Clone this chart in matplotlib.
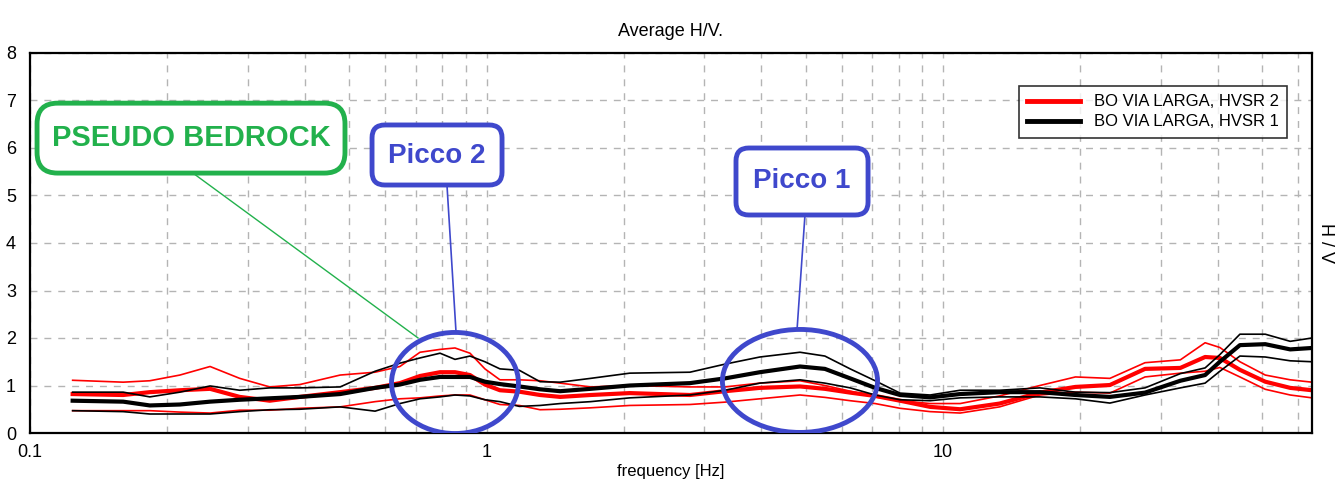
import numpy as np
import matplotlib.pyplot as plt
from matplotlib.patches import Ellipse, FancyBboxPatch

plt.rcParams['font.family'] = ['Liberation Sans', 'DejaVu Sans']

# frequency axis (Hz)
freq = [0.124, 0.160, 0.183, 0.213, 0.248, 0.288, 0.335, 0.390, 0.478, 0.570,
        0.646, 0.715, 0.791, 0.853, 0.920, 0.992, 1.07, 1.18, 1.31, 1.45,
        1.69, 2.06, 2.79, 3.33, 3.97, 4.86, 5.51, 6.26, 7.10, 8.05,
        9.37, 10.9, 13.3, 16.3, 19.5, 23.2, 27.7, 33.1, 37.5, 40.4,
        44.7, 50.8, 57.6, 64.3]

# HVSR 2 (red): mean and +/- std
hv2_up = [1.11, 1.07, 1.10, 1.22, 1.40, 1.15, 0.97, 1.02, 1.22, 1.28,
          1.40, 1.70, 1.76, 1.79, 1.68, 1.35, 1.12, 1.12, 1.10, 1.05,
          0.97, 1.00, 0.97, 0.97, 1.05, 1.10, 1.00, 0.88, 0.76, 0.68,
          0.62, 0.62, 0.78, 1.00, 1.18, 1.15, 1.48, 1.54, 1.90, 1.80,
          1.50, 1.22, 1.12, 1.07]
hv2_mean = [0.82, 0.80, 0.86, 0.90, 0.93, 0.76, 0.68, 0.76, 0.86, 0.95,
            1.05, 1.20, 1.28, 1.28, 1.22, 1.02, 0.90, 0.87, 0.80, 0.76,
            0.80, 0.84, 0.80, 0.88, 0.95, 0.98, 0.93, 0.85, 0.78, 0.68,
            0.55, 0.50, 0.62, 0.85, 0.97, 1.01, 1.35, 1.37, 1.60, 1.58,
            1.33, 1.08, 0.95, 0.90]
hv2_lo = [0.47, 0.47, 0.47, 0.44, 0.42, 0.48, 0.48, 0.52, 0.55, 0.66,
          0.72, 0.74, 0.78, 0.80, 0.80, 0.70, 0.60, 0.58, 0.49, 0.50,
          0.53, 0.58, 0.60, 0.65, 0.72, 0.80, 0.75, 0.68, 0.62, 0.52,
          0.45, 0.42, 0.55, 0.80, 0.86, 0.84, 1.18, 1.26, 1.30, 1.38,
          1.18, 0.92, 0.80, 0.74]

# HVSR 1 (black): mean and +/- std
hv1_up = [0.86, 0.86, 0.76, 0.86, 0.99, 0.90, 0.95, 0.95, 0.97, 1.30,
          1.47, 1.58, 1.68, 1.55, 1.62, 1.50, 1.35, 1.32, 1.08, 1.07,
          1.15, 1.26, 1.28, 1.45, 1.60, 1.70, 1.62, 1.35, 1.10, 0.84,
          0.80, 0.90, 0.90, 0.95, 0.86, 0.85, 0.95, 1.25, 1.37, 1.65,
          2.08, 2.08, 1.93, 2.00]
hv1_mean = [0.68, 0.66, 0.58, 0.60, 0.66, 0.70, 0.73, 0.76, 0.82, 0.95,
            1.02, 1.12, 1.18, 1.18, 1.18, 1.08, 1.03, 0.98, 0.92, 0.88,
            0.93, 1.00, 1.05, 1.15, 1.28, 1.40, 1.35, 1.15, 0.95, 0.80,
            0.75, 0.82, 0.86, 0.86, 0.80, 0.76, 0.85, 1.10, 1.22, 1.50,
            1.85, 1.87, 1.76, 1.79]
hv1_lo = [0.47, 0.45, 0.40, 0.40, 0.40, 0.45, 0.49, 0.50, 0.55, 0.46,
          0.62, 0.72, 0.76, 0.80, 0.78, 0.70, 0.66, 0.56, 0.58, 0.62,
          0.66, 0.74, 0.80, 0.90, 1.05, 1.12, 1.05, 0.95, 0.80, 0.70,
          0.68, 0.74, 0.76, 0.76, 0.72, 0.63, 0.80, 0.95, 1.05, 1.30,
          1.62, 1.60, 1.52, 1.50]

GREEN = '#22b14c'
BLUE = '#3f48cc'

fig = plt.figure(figsize=(13.36, 4.84), dpi=100)
ax = fig.add_axes([30 / 1336, 51 / 484, 1282 / 1336, 380 / 484])

ax.plot(freq, hv2_up, color='red', lw=1.2)
ax.plot(freq, hv2_lo, color='red', lw=1.2)
ax.plot(freq, hv2_mean, color='red', lw=3, label='BO VIA LARGA, HVSR 2')
ax.plot(freq, hv1_up, color='black', lw=1.2)
ax.plot(freq, hv1_lo, color='black', lw=1.2)
ax.plot(freq, hv1_mean, color='black', lw=3, label='BO VIA LARGA, HVSR 1')

ax.set_xscale('log')
ax.set_xlim(0.1, 64.3)
ax.set_ylim(0, 8)
ax.set_xticks([0.1, 1, 10])
ax.set_xticklabels(['0.1', '1', '10'])
minor = [m * d for d in (0.1, 1, 10) for m in range(2, 10) if m * d < 64.3]
ax.set_xticks(minor, minor=True)
ax.set_xticklabels([], minor=True)
ax.set_yticks(range(9))
ax.tick_params(axis='both', which='both', length=0, labelsize=13)
ax.tick_params(axis='y', pad=10)
ax.tick_params(axis='x', pad=8)
ax.grid(True, which='both', axis='x', color='#b4b4b4', ls=(0, (5, 5)), lw=1)
ax.grid(True, which='major', axis='y', color='#b4b4b4', ls=(0, (5, 5)), lw=1)
for s in ax.spines.values():
    s.set_linewidth(1.6)

ax.set_title('Average H/V.', fontsize=13, pad=12)
ax.set_xlabel('frequency [Hz]', fontsize=12, labelpad=2)
ax.yaxis.set_label_position('right')
ax.set_ylabel('H / V', fontsize=13, rotation=270, labelpad=16)

leg = ax.legend(loc='upper right', bbox_to_anchor=(0.9805, 0.913), fontsize=12,
                frameon=True, fancybox=False, edgecolor='black', handlelength=3.2,
                borderpad=0.5, labelspacing=0.3, borderaxespad=0)
leg.get_frame().set_linewidth(1.2)
for h in leg.get_lines():
    h.set_linewidth(3.5)

asp = 1282 / 380
tr = ax.transAxes

# PSEUDO BEDROCK box
ax.plot([0.1271, 0.3027], [0.684, 0.25], color=GREEN, lw=1, transform=tr, zorder=5)
ax.add_patch(FancyBboxPatch((0.0055, 0.684), 0.2402, 0.184,
                            boxstyle='round,pad=0,rounding_size=0.016',
                            mutation_aspect=asp, transform=tr, fill=True,
                            facecolor='white', edgecolor=GREEN, lw=3.5, zorder=6))
ax.text(0.1256, 0.776, 'PSEUDO BEDROCK', transform=tr, color=GREEN, fontsize=21,
        fontweight='bold', ha='center', va='center', zorder=7)

# Picco 2
ax.plot([0.3253, 0.3323], [0.65, 0.266], color=BLUE, lw=1.2, transform=tr, zorder=5)
ax.add_patch(FancyBboxPatch((0.2668, 0.6526), 0.1014, 0.158,
                            boxstyle='round,pad=0,rounding_size=0.010',
                            mutation_aspect=asp, transform=tr, fill=True,
                            facecolor='white', edgecolor=BLUE, lw=3.5, zorder=6))
ax.text(0.3175, 0.73, 'Picco 2', transform=tr, color=BLUE, fontsize=20,
        fontweight='bold', ha='center', va='center', zorder=7)
ax.add_patch(Ellipse((0.3315, 0.1316), 0.099, 0.266, transform=tr, fill=False,
                     edgecolor=BLUE, lw=3.5, zorder=6))

# Picco 1
ax.plot([0.6045, 0.5983], [0.5737, 0.271], color=BLUE, lw=1.2, transform=tr, zorder=5)
ax.add_patch(FancyBboxPatch((0.5507, 0.5737), 0.103, 0.1763,
                            boxstyle='round,pad=0,rounding_size=0.010',
                            mutation_aspect=asp, transform=tr, fill=True,
                            facecolor='white', edgecolor=BLUE, lw=3.5, zorder=6))
ax.text(0.6022, 0.662, 'Picco 1', transform=tr, color=BLUE, fontsize=20,
        fontweight='bold', ha='center', va='center', zorder=7)
ax.add_patch(Ellipse((0.6006, 0.137), 0.121, 0.271, transform=tr, fill=False,
                     edgecolor=BLUE, lw=3.5, zorder=6))

fig.savefig('out.png', dpi=100)
